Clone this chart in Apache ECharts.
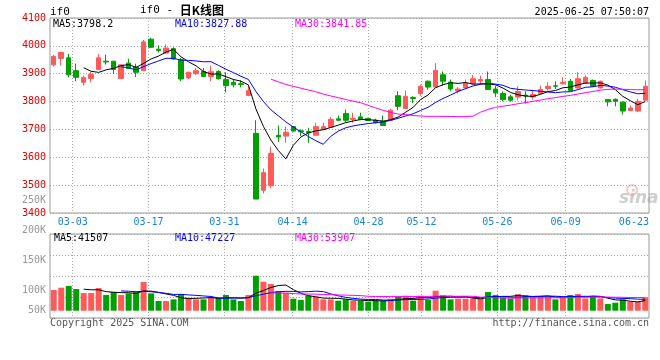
<!DOCTYPE html>
<html><head><meta charset="utf-8">
<script src="https://cdn.jsdelivr.net/npm/echarts@6/dist/echarts.min.js"></script>
<style>html,body{margin:0;padding:0;background:#fff}#c{width:660px;height:360px}</style>
</head><body><div id="c"></div>
<script>
// ---------- data ----------
const dates = ['02-26','02-27','02-28',
 '03-03','03-04','03-05','03-06','03-07','03-10','03-11','03-12','03-13','03-14',
 '03-17','03-18','03-19','03-20','03-21','03-24','03-25','03-26','03-27','03-28',
 '03-31','04-01','04-02','04-03','04-07','04-08','04-09','04-10','04-11',
 '04-14','04-15','04-16','04-17','04-18','04-21','04-22','04-23','04-24','04-25',
 '04-28','04-29','04-30','05-06','05-07','05-08','05-09',
 '05-12','05-13','05-14','05-15','05-16','05-19','05-20','05-21','05-22','05-23',
 '05-26','05-27','05-28','05-29','05-30','06-03','06-04','06-05','06-06',
 '06-09','06-10','06-11','06-12','06-13','06-16','06-17','06-18','06-19','06-20',
 '06-23','06-24'];

const open = [3932,3955,3957,3911,3869,3883,3915,3945,3945,3883,
 3938,3924,3911,4024,3988,3974,3990,3950,3885,3900,
 3908,3890,3908,3879,3869,3864,3822,3686,3482,3498,
 3679,3676,3710,3695,3693,3679,3700,3708,3738,3757,
 3736,3745,3739,3733,3730,3732,3821,3775,3815,3829,
 3873,3852,3896,3870,3838,3849,3864,3874,3879,3845,
 3829,3817,3816,3823,3816,3829,3846,3857,3864,3873,
 3849,3867,3876,3849,3807,3808,3798,3768,3766,3805];
const close = [3962,3976,3896,3887,3886,3898,3957,3942,3915,3932,
 3919,3905,4014,3995,3983,3992,3953,3881,3905,3911,
 3890,3907,3882,3857,3860,3861,3839,3450,3545,3614,
 3673,3690,3694,3692,3688,3710,3710,3736,3733,3733,
 3740,3736,3732,3724,3714,3769,3783,3819,3811,3855,
 3852,3912,3873,3845,3845,3867,3882,3879,3843,3831,
 3807,3805,3836,3820,3825,3843,3855,3855,3869,3839,
 3882,3887,3855,3873,3799,3801,3766,3777,3801,3855];
const low = [3926,3929,3887,3873,3857,3869,3915,3933,3899,3883,
 3917,3888,3911,3992,3976,3971,3950,3873,3881,3895,
 3888,3873,3879,3833,3851,3851,3819,3450,3470,3488,
 3655,3652,3693,3676,3652,3679,3698,3706,3730,3726,
 3724,3733,3730,3721,3714,3732,3769,3775,3795,3821,
 3843,3852,3857,3837,3829,3845,3863,3861,3843,3816,
 3801,3800,3804,3793,3807,3825,3840,3845,3861,3837,
 3845,3864,3855,3847,3783,3783,3754,3766,3762,3805];
const high = [3967,3976,3971,3936,3893,3907,3971,3968,3945,3932,
 3954,3936,4021,4029,4002,4005,3995,3956,3908,3920,
 3920,3929,3912,3905,3881,3876,3855,3733,3560,3638,
 3714,3710,3712,3700,3706,3724,3724,3745,3750,3771,
 3760,3760,3742,3738,3750,3774,3837,3840,3819,3861,
 3876,3938,3908,3879,3852,3879,3896,3893,3908,3857,
 3837,3825,3855,3837,3843,3857,3869,3873,3887,3881,
 3905,3894,3879,3875,3807,3811,3801,3786,3810,3876];

const ma5 = [null,null,null,null,3921.4,3908.6,3904.8,3914,3919.6,3928.8,
 3933,3922.6,3937,3953,3963.2,3977.8,3987.4,3960.8,3942.8,3928.4,
 3908,3898.8,3899,3889.4,3879.2,3873.4,3859.8,3773.4,3711,3661.8,
 3624.2,3594.4,3643.2,3672.6,3687.4,3694.8,3698.8,3707.2,3715.4,3724.4,
 3730.4,3735.6,3734.8,3733,3729.2,3735,3744.4,3761.8,3779.2,3807.4,
 3824,3849.8,3860.6,3867.4,3865.4,3868.4,3862.4,3863.6,3863.2,3860.4,
 3848.4,3833,3824.4,3819.8,3818.6,3825.8,3835.8,3839.6,3849.4,3852.2,
 3860,3866.4,3866.4,3867.2,3859.2,3843,3818.8,3803.2,3788.8,3800];
const ma10 = [null,null,null,null,null,null,null,null,null,3925.1,
 3920.8,3913.7,3925.5,3936.3,3946,3955.4,3955,3948.9,3947.9,3945.8,
 3942.9,3943.1,3929.9,3916.1,3903.8,3890.7,3879.3,3836.2,3800.2,3770.5,
 3748.8,3727.1,3708.3,3691.8,3674.6,3659.5,3646.6,3675.2,3694,3705.9,
 3712.6,3717.2,3721,3724.2,3726.8,3732.7,3740,3748.3,3756.1,3768.3,
 3779.5,3797.1,3811.2,3823.3,3836.4,3846.2,3856.1,3862.1,3865.3,3862.9,
 3858.4,3847.7,3844,3841.5,3839.5,3837.1,3834.4,3832,3834.6,3835.4,
 3842.9,3851.1,3853,3858.3,3855.7,3851.5,3842.6,3834.8,3828,3829.6];
const ma30 = [null,null,null,null,null,null,null,null,null,null,
 null,null,null,null,null,null,null,null,null,null,
 null,null,null,null,null,null,null,null,null,3880.5,
 3870.8,3861.3,3854.6,3848.1,3841.5,3835.2,3827.0,3820.1,3814.0,3807.4,
 3801.4,3795.8,3786.4,3777.4,3768.4,3761.0,3755.3,3753.2,3750.1,3748.2,
 3747.0,3747.1,3746.8,3746.4,3745.9,3746.1,3747.6,3761.9,3771.8,3779.0,
 3783.5,3787.3,3792.1,3796.3,3800.9,3805.3,3810.2,3814.1,3818.7,3822.2,
 3826.9,3832.0,3836.1,3841.0,3843.9,3844.9,3844.4,3843.0,3842.6,3842.6];

// volume in thousands of lots
const volumeK = [85.1,94.6,101.5,89.2,72.7,72.7,93.3,64.5,76.8,64.5,
 71.3,76.8,118.0,71.3,39.8,39.8,46.6,68.6,53.5,46.6,
 46.6,54.9,53.5,64.5,46.6,39.8,64.5,144.0,119.3,109.7,
 80.9,74.1,49.4,43.9,61.7,57.6,46.6,46.6,41.2,46.6,
 41.2,41.2,37.0,41.2,41.2,49.4,57.6,61.7,41.2,61.7,
 43.9,82.3,63.1,46.6,49.4,49.4,49.4,49.4,76.8,64.5,
 54.9,49.4,68.6,63.1,57.6,57.6,57.6,46.6,57.6,64.5,
 68.6,50.7,60.4,50.7,27.4,32.9,46.6,37.0,37.0,54.9];
const volMa5 = [null,null,null,null,88.6,86.1,85.9,78.5,76.0,74.4,
 74.1,70.8,81.5,80.4,75.4,69.1,63.1,53.2,49.7,51.0,
 52.4,54.0,51.0,53.2,53.2,51.9,53.8,71.9,82.8,95.5,
 103.7,105.6,86.7,71.6,62.0,57.3,51.8,51.3,50.7,47.7,
 44.4,43.4,41.4,41.4,40.4,42.0,45.3,50.2,50.2,54.3,
 53.2,58.2,58.4,59.5,57.1,58.2,51.6,48.8,54.9,57.9,
 59.0,59.0,62.8,60.1,58.7,59.3,60.9,56.5,55.4,56.8,
 59.0,57.6,60.4,59.0,51.6,44.4,43.6,38.9,36.2,41.7];
const volMa10 = [null,null,null,null,null,null,null,null,null,81.5,
 80.1,78.3,80.0,78.2,74.9,71.6,66.9,67.4,65.0,63.2,
 60.8,58.6,52.1,51.4,52.1,52.1,53.9,61.5,68.0,74.3,
 77.8,79.7,79.3,77.2,78.7,80.5,78.7,69.0,61.2,54.9,
 50.9,47.6,46.4,46.1,44.0,43.2,44.3,45.8,45.8,47.3,
 47.6,51.7,54.3,54.9,55.7,55.7,54.9,53.6,57.2,57.5,
 58.6,55.3,55.8,57.5,58.3,59.1,60.0,59.7,57.8,57.8,
 59.1,59.3,58.4,57.2,54.2,51.7,50.6,49.6,47.6,46.6];
const volMa30 = [null,null,null,null,null,null,null,null,null,null,
 null,null,null,null,null,null,null,null,null,null,
 null,null,null,null,null,null,null,null,null,73.0,
 72.9,72.2,70.5,69.0,68.6,68.1,66.5,65.9,64.7,64.1,
 63.1,62.0,59.3,58.3,58.3,58.6,59.0,58.8,58.3,58.8,
 58.8,59.7,60.0,59.4,59.5,59.8,59.3,56.2,54.7,53.2,
 52.4,51.5,52.2,52.8,52.7,52.7,53.0,53.0,53.6,54.2,
 55.1,55.4,56.2,56.5,56.1,55.5,55.1,54.3,54.2,54.0];

const axisDates = ['03-03','03-17','03-31','04-14','04-28','05-12','05-26','06-09','06-23'];
const gridDates = ['03-03','03-17','03-31','04-14','04-28','05-12','05-26','06-09'];
const priceTicks = [3400,3500,3600,3700,3800,3900,4000,4100];
const volTicksK = [50,100,150,200,250];
const priceHeader = ['MA5:3798.2','MA10:3827.88','MA30:3841.85'];
const volHeader = ['MA5:41507','MA10:47227','MA30:53907'];
const chartName = 'if0';
const titleCode = 'if0 - ';
const titleCn = '日K线图';
const stamp = '2025-06-25 07:50:07';
const copyright = 'Copyright 2025 SINA.COM';
const siteUrl = 'http://finance.sina.com.cn';

// ---------- chart ----------
const MONO = '"DejaVu Sans Mono","Liberation Mono",monospace';
const UP = '#ff5a5a', DOWN = '#00a000';
const dotted = {type:[1,2], color:'#a8a8a8', width:1};
const showDate = (i, v) => axisDates.indexOf(v) >= 0;
const showGrid = (i, v) => gridDates.indexOf(v) >= 0;

const candles = dates.map((d, i) => [open[i], close[i], low[i], high[i]]);
const vols = volumeK.map((v, i) => ({value: v, itemStyle: {color: close[i] >= open[i] ? UP : DOWN}}));

const chart = echarts.init(document.getElementById('c'), null, {renderer:'canvas'});
chart.setOption({
  animation: false,
  backgroundColor: '#fff',
  grid: [
    {left:50, top:18, width:599, height:195, show:true, borderColor:'#999', borderWidth:1},
    {left:50, top:234, width:599, height:84, show:true, borderColor:'#999', borderWidth:1},
    {left:50, top:234, width:599, height:84},
    {left:50, top:200, width:599, height:120}
  ],
  xAxis: [
    {gridIndex:0, type:'category', data:dates, boundaryGap:true, position:'top', show:false},
    {gridIndex:0, type:'category', data:dates, boundaryGap:false, position:'bottom',
     axisLine:{show:false}, axisTick:{show:false},
     axisLabel:{interval:showDate, color:'#1a84d8', fontFamily:MONO, fontSize:10, margin:4,
       formatter: v => v === '06-23' ? '{e|' + v + '}' : v,
       rich:{e:{padding:[0,15,0,0], color:'#1a84d8', fontFamily:MONO, fontSize:10}}},
     splitLine:{show:true, interval:showGrid, lineStyle:dotted}},
    {gridIndex:1, type:'category', data:dates, boundaryGap:true, position:'top', show:false},
    {gridIndex:2, type:'category', data:dates, boundaryGap:false, position:'bottom',
     axisLine:{show:false}, axisTick:{show:false}, axisLabel:{show:false},
     splitLine:{show:true, interval:showGrid, lineStyle:dotted}},
    {gridIndex:3, type:'category', data:dates, show:false}
  ],
  yAxis: [
    {gridIndex:0, type:'value', min:priceTicks[0], max:priceTicks[priceTicks.length-1], interval:100,
     axisLine:{show:false}, axisTick:{show:false},
     axisLabel:{color:'#e00000', fontFamily:MONO, fontSize:10, margin:4, formatter: v => String(v)},
     splitLine:{show:true, lineStyle:dotted}},
    {gridIndex:1, type:'value', min:-30, max:315.6, show:false},
    {gridIndex:2, type:'value', min:0, max:4, interval:1,
     axisLine:{show:false}, axisTick:{show:false}, axisLabel:{show:false},
     splitLine:{show:true, lineStyle:dotted}},
    {gridIndex:3, type:'value', min:volTicksK[0], max:volTicksK[volTicksK.length-1], interval:50,
     axisLine:{show:false}, axisTick:{show:false}, splitLine:{show:false},
     axisLabel:{color:'#999', fontFamily:MONO, fontSize:10, margin:4,
       formatter: v => v === volTicksK[0] ? '{b|' + v + 'K}' : v + 'K',
       rich:{b:{padding:[0,0,20,0], color:'#999', fontFamily:MONO, fontSize:10}}}}
  ],
  series: [
    {type:'candlestick', xAxisIndex:0, yAxisIndex:0, data:candles, barWidth:5,
     itemStyle:{color:UP, color0:DOWN, borderColor:UP, borderColor0:DOWN, borderWidth:1}},
    {type:'line', xAxisIndex:0, yAxisIndex:0, data:ma5, symbol:'none', lineStyle:{width:1, color:'#000'}, itemStyle:{color:'#000'}},
    {type:'line', xAxisIndex:0, yAxisIndex:0, data:ma10, symbol:'none', lineStyle:{width:1, color:'#0000ff'}, itemStyle:{color:'#0000ff'}},
    {type:'line', xAxisIndex:0, yAxisIndex:0, data:ma30, symbol:'none', lineStyle:{width:1, color:'#ff00ff'}, itemStyle:{color:'#ff00ff'}},
    {type:'bar', xAxisIndex:2, yAxisIndex:1, data:vols, barWidth:6},
    {type:'line', xAxisIndex:2, yAxisIndex:1, data:volMa5, symbol:'none', lineStyle:{width:1, color:'#000'}, itemStyle:{color:'#000'}},
    {type:'line', xAxisIndex:2, yAxisIndex:1, data:volMa10, symbol:'none', lineStyle:{width:1, color:'#0000ff'}, itemStyle:{color:'#0000ff'}},
    {type:'line', xAxisIndex:2, yAxisIndex:1, data:volMa30, symbol:'none', lineStyle:{width:1, color:'#ff00ff'}, itemStyle:{color:'#ff00ff'}}
  ],
  graphic: [
    {type:'text', x:50, y:12, style:{text:chartName, fontFamily:MONO, fontSize:11, fill:'#000', verticalAlign:'middle'}},
    {type:'text', x:140, y:10, style:{text:'{a|' + titleCode + '}{b|' + titleCn + '}', verticalAlign:'middle',
      rich:{a:{fontFamily:MONO, fontSize:11, fill:'#000'}, b:{fontFamily:'"Noto Sans CJK SC",sans-serif', fontSize:12, fontWeight:'bold', fill:'#000'}}}},
    {type:'text', x:649, y:12, style:{text:stamp, fontFamily:MONO, fontSize:10, fill:'#000', align:'right', verticalAlign:'middle'}},
    {type:'text', x:53, y:24.5, style:{text:priceHeader[0], fontFamily:MONO, fontSize:10, fill:'#000', verticalAlign:'middle'}},
    {type:'text', x:175, y:24.5, style:{text:priceHeader[1], fontFamily:MONO, fontSize:10, fill:'#0000ff', verticalAlign:'middle'}},
    {type:'text', x:295, y:24.5, style:{text:priceHeader[2], fontFamily:MONO, fontSize:10, fill:'#ff00ff', verticalAlign:'middle'}},
    {type:'text', x:54, y:238, style:{text:volHeader[0], fontFamily:MONO, fontSize:10, fill:'#000', verticalAlign:'middle'}},
    {type:'text', x:175, y:238, style:{text:volHeader[1], fontFamily:MONO, fontSize:10, fill:'#0000ff', verticalAlign:'middle'}},
    {type:'text', x:295, y:238, style:{text:volHeader[2], fontFamily:MONO, fontSize:10, fill:'#ff00ff', verticalAlign:'middle'}},
    {type:'text', x:50, y:323, style:{text:copyright, fontFamily:MONO, fontSize:10, fill:'#555', verticalAlign:'middle'}},
    {type:'text', x:649, y:323, style:{text:siteUrl, fontFamily:MONO, fontSize:10, fill:'#555', align:'right', verticalAlign:'middle'}},
    {type:'circle', z:-1, shape:{cx:632, cy:190, r:5}, style:{fill:'none', stroke:'rgba(235,130,130,0.45)', lineWidth:2}},
    {type:'text', z:-1, x:619, y:199, style:{text:'sina', fontFamily:'"DejaVu Sans",sans-serif', fontSize:17, fontStyle:'italic', fontWeight:'bold', fill:'rgba(160,160,160,0.5)', verticalAlign:'middle'}}
  ]
});
</script></body></html>
